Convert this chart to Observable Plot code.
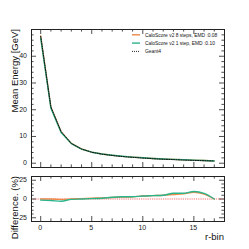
<!DOCTYPE html>
<html><head><meta charset="utf-8">
<script src="https://cdn.jsdelivr.net/npm/d3@7"></script>
<script src="https://cdn.jsdelivr.net/npm/@observablehq/plot@0.6"></script>
<style>
html,body{margin:0;padding:0;background:#fff;}
#chart{position:relative;width:249px;height:249px;overflow:hidden;background:#fff;}
#chart svg{position:absolute;left:0;}
</style></head><body><div id="chart"></div>
<script>
const rBins = [0,1,2,3,4,5,6,7,8,9,10,11,12,13,14,15,16,17];
const geant4 = [47.5,21.0,11.8,7.4,5.3,4.1,3.4,2.9,2.5,2.2,1.95,1.7,1.5,1.35,1.2,1.05,0.95,0.85];
const calo8  = [47.5,21.0,11.75,7.4,5.33,4.14,3.45,2.96,2.56,2.27,2.03,1.78,1.58,1.43,1.28,1.14,1.01,0.85];
const calo1  = [46.8,20.6,11.45,7.36,5.3,4.12,3.43,2.97,2.58,2.27,2.03,1.78,1.58,1.45,1.29,1.16,1.02,0.85];
const diff8  = [0,0,-0.5,0,0.5,1,1.5,2,2.5,3,4,4.5,5,6,7,9,6.5,0];
const diff1  = [-1.5,-2,-3,-0.5,0,0.5,1,2.3,3,3,4,4.5,5,7.7,7.7,10,7.5,0];
const xMajor = [0,5,10,15];
const xMinor = [1,2,3,4,6,7,8,9,11,12,13,14,16,17];
const yTopMajor = [0,10,20,30,40];
const yTopMinor = [2,4,6,8,12,14,16,18,22,24,26,28,32,34,36,38,42,44,46,48];
const yBotMajor = [-25,0,25];
const yBotMinor = [-20,-15,-10,-5,5,10,15,20];
const seriesNames = ["CaloScore v2 8 steps, EMD :0.08","CaloScore v2 1 step, EMD :0.10","Geant4"];
const axisLabels = {topY: "Mean Energy [GeV]", botY: "Difference. (%)", x: "r-bin"};
const colors = {orange:"#f0884a", green:"#2bb38a", black:"#111", red:"#ff6a6a"};

const FONT = "'Liberation Sans', Arial, sans-serif";
const W = 249, mL = 31, mR = 25;
const fw = W - mL - mR;

const rows = (ys) => rBins.map((r,i)=>({r, v: ys[i]}));

function ticks(xsMaj, xsMin, ysMaj, ysMin, fh) {
  const s = {stroke:"#222", strokeWidth:0.8};
  const M = 5, m = 2.6;
  return [
    Plot.tickX(xsMaj, {x:d=>d, insetTop: fh-M, ...s}),
    Plot.tickX(xsMaj, {x:d=>d, insetBottom: fh-M, ...s}),
    Plot.tickX(xsMin, {x:d=>d, insetTop: fh-m, ...s}),
    Plot.tickX(xsMin, {x:d=>d, insetBottom: fh-m, ...s}),
    Plot.tickY(ysMaj, {y:d=>d, insetRight: fw-M, ...s}),
    Plot.tickY(ysMaj, {y:d=>d, insetLeft: fw-M, ...s}),
    Plot.tickY(ysMin, {y:d=>d, insetRight: fw-m, ...s}),
    Plot.tickY(ysMin, {y:d=>d, insetLeft: fw-m, ...s}),
  ];
}

// Top panel
const topH = 170, topMT = 29, topMB = 3;
const topPlot = Plot.plot({
  width: W, height: topH, marginTop: topMT, marginBottom: topMB, marginLeft: mL, marginRight: mR,
  style: {fontFamily: FONT, background: "transparent", overflow: "visible"},
  x: {domain: [-0.9, 18], axis: null},
  y: {domain: [-1.6, 50], axis: null},
  marks: [
    Plot.line(rows(calo8), {x:"r", y:"v", stroke: colors.orange, strokeWidth: 1.4}),
    Plot.line(rows(calo1), {x:"r", y:"v", stroke: colors.green, strokeWidth: 1.4}),
    Plot.line(rows(geant4), {x:"r", y:"v", stroke: colors.black, strokeWidth: 1, strokeDasharray: "1.2,1.2"}),
    ...ticks(xMajor, xMinor, yTopMajor, yTopMinor, topH-topMT-topMB),
    Plot.frame({stroke:"#222", strokeWidth: 1})
  ]
});
topPlot.style.top = "0px";

// Bottom panel
const botTop = 170, botH = 79, botMT = 6, botMB = 28;
const botPlot = Plot.plot({
  width: W, height: botH, marginTop: botMT, marginBottom: botMB, marginLeft: mL, marginRight: mR,
  style: {fontFamily: FONT, background: "transparent", overflow: "visible"},
  x: {domain: [-0.9, 18], axis: null},
  y: {domain: [-30, 30], axis: null},
  marks: [
    Plot.ruleY([0], {stroke: colors.red, strokeWidth: 1, strokeDasharray: "1.2,1"}),
    Plot.line(rows(diff8), {x:"r", y:"v", stroke: colors.orange, strokeWidth: 1.4, curve:"monotone-x"}),
    Plot.line(rows(diff1), {x:"r", y:"v", stroke: colors.green, strokeWidth: 1.4, curve:"monotone-x"}),
    ...ticks(xMajor, xMinor, yBotMajor, yBotMinor, botH-botMT-botMB),
    Plot.frame({stroke:"#222", strokeWidth: 1})
  ]
});
botPlot.style.top = botTop + "px";

const chart = document.getElementById("chart");
chart.appendChild(topPlot);
chart.appendChild(botPlot);

// Tick labels and axis titles (overlay svg, positioned with Plot's scales)
const yTop = topPlot.scale("y"), yBot = botPlot.scale("y"), xS = botPlot.scale("x");
const ov = d3.select(chart).append("svg")
  .attr("width", W).attr("height", 249)
  .style("left", "0px").style("top", "0px").style("position","absolute")
  .attr("font-family", FONT).attr("fill", "#222");
ov.selectAll("text.yt").data(yTopMajor).join("text").attr("class","yt")
  .attr("x", mL - 4).attr("y", d => yTop.apply(d)).attr("dy", "0.35em")
  .attr("text-anchor", "end").attr("font-size", 7).text(d => String(d));
ov.selectAll("text.yb").data(yBotMajor).join("text").attr("class","yb")
  .attr("x", mL - 4).attr("y", d => botTop + yBot.apply(d)).attr("dy", "0.35em")
  .attr("text-anchor", "end").attr("font-size", 7).text(d => String(d));
ov.selectAll("text.xb").data(xMajor).join("text").attr("class","xb")
  .attr("x", d => xS.apply(d)).attr("y", botTop + botH - botMB + 3).attr("dy", "0.8em")
  .attr("text-anchor", "middle").attr("font-size", 7).text(d => String(d));
ov.append("text").attr("transform", `translate(17.5,${topMT}) rotate(-90)`)
  .attr("text-anchor", "end").attr("font-size", 9.5).attr("fill","#111").text(axisLabels.topY);
ov.append("text").attr("transform", `translate(17.5,${botTop + botMT}) rotate(-90)`)
  .attr("text-anchor", "end").attr("font-size", 9.5).attr("fill","#111").text(axisLabels.botY);
ov.append("text").attr("x", W - mR).attr("y", 240)
  .attr("text-anchor", "end").attr("font-size", 9.5).attr("fill","#111").text(axisLabels.x);

// Legend
const leg = d3.select(chart).append("svg")
  .attr("width", 100).attr("height", 30)
  .style("left", "130px").style("top", "30px").style("position","absolute");
const legStyles = [
  {stroke: colors.orange, w: 1.4, dash: null},
  {stroke: colors.green, w: 1.4, dash: null},
  {stroke: colors.black, w: 0.9, dash: "1,1"}
];
seriesNames.forEach((name, i) => {
  const y = 4.8 + i * 8.3;
  leg.append("line").attr("x1", 2).attr("x2", 10).attr("y1", y).attr("y2", y)
    .attr("stroke", legStyles[i].stroke).attr("stroke-width", legStyles[i].w)
    .attr("stroke-dasharray", legStyles[i].dash);
  leg.append("text").attr("x", 15).attr("y", y).attr("dy", "0.35em")
    .attr("font-family", FONT).attr("font-size", 4.9).attr("fill", "#111").text(name);
});
</script>
</body></html>
